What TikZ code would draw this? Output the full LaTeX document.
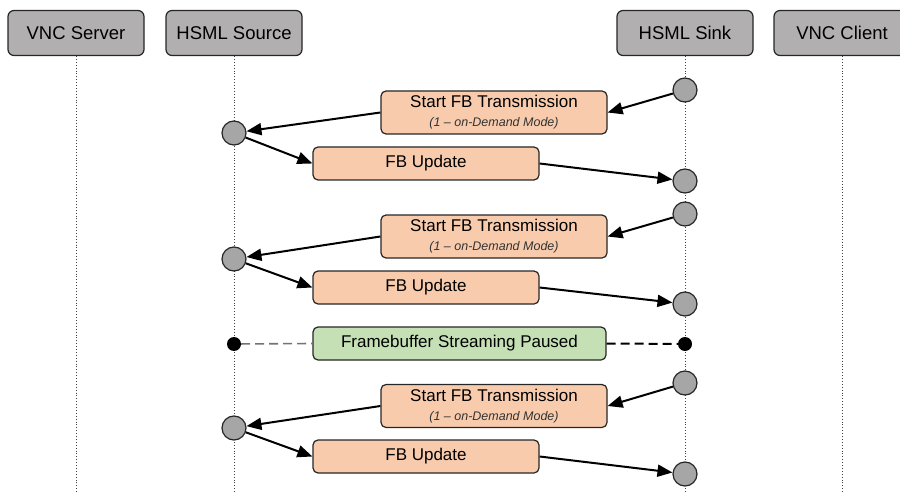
\documentclass[tikz,border=0pt]{standalone}
\usepackage{fontspec}
\setmainfont{Liberation Sans}
\usepackage{xcolor}
\usepackage{tikz}
\usetikzlibrary{arrows.meta, positioning}
\definecolor{hdrgray}{RGB}{178,175,176}
\definecolor{peach}{RGB}{248,203,173}
\definecolor{mint}{RGB}{197,224,180}
\definecolor{evgray}{RGB}{166,166,166}
\tikzset{
    actor/.style={rectangle, rounded corners=6pt, draw=black!85, line width=1.2pt, fill=hdrgray, minimum width=136pt, minimum height=45pt, font=\fontsize{18.5}{20}\selectfont},
    lifeline/.style={dotted, line width=0.9pt, black!75},
    event/.style={circle, draw=black!85, line width=1.2pt, fill=evgray, minimum size=24pt, inner sep=0pt},
    stopdot/.style={circle, fill=black, minimum size=14pt, inner sep=0pt},
    cmdbox/.style={rectangle, rounded corners=5pt, draw=black!85, line width=1.2pt, fill=peach, minimum width=226pt, minimum height=43pt, align=center, font=\fontsize{17}{19}\selectfont},
    databox/.style={rectangle, rounded corners=5pt, draw=black!85, line width=1.2pt, fill=peach, minimum width=226pt, minimum height=33pt, font=\fontsize{17}{19}\selectfont},
    pausebox/.style={rectangle, rounded corners=5pt, draw=black!85, line width=1.2pt, fill=mint, minimum width=293pt, minimum height=33pt, font=\fontsize{17}{19}\selectfont},
    msg/.style={-{Triangle[length=15pt, width=12pt]}, line width=2pt}
}
\newcommand{\startlabel}{Start FB Transmission\\[0pt]{\fontsize{12.5}{14}\selectfont\itshape\color{black!80}(1 -- on-Demand Mode)}}

\begin{document}
\begin{tikzpicture}[x=1pt, y=-1pt]
    \useasboundingbox (0,0) rectangle (900,492);

    % Participants
    \node[actor] (vncS) at (76,33) {VNC Server};
    \node[actor] (src) at (234,33) {HSML Source};
    \node[actor] (sink) at (685,33) {HSML Sink};
    \node[actor] (vncC) at (842,33) {VNC Client};

    % Lifelines
    \coordinate (vncSend) at (76,492);
    \coordinate (srcEnd) at (234,492);
    \coordinate (sinkEnd) at (685,492);
    \coordinate (vncCend) at (842,492);
    \draw[lifeline] (vncS) -- (vncSend);
    \draw[lifeline] (src) -- (srcEnd);
    \draw[lifeline] (sink) -- (sinkEnd);
    \draw[lifeline] (vncC) -- (vncCend);

    % Round 1
    \node[event] (K1) at (685,90) {};
    \node[cmdbox] (C1) at (494,112.5) {\startlabel};
    \node[event] (S1) at (234,133) {};
    \node[databox] (U1) at (426,163.5) {FB Update};
    \node[event] (R1) at (685,181) {};
    \draw[msg] (K1) -- (C1.east);
    \draw[msg] (C1.west) -- (S1);
    \draw[msg] (S1) -- (U1.west);
    \draw[msg] (U1.east) -- (R1);

    % Round 2
    \node[event] (K2) at (685,214) {};
    \node[cmdbox] (C2) at (494,236.5) {\startlabel};
    \node[event] (S2) at (234,259) {};
    \node[databox] (U2) at (426,287.5) {FB Update};
    \node[event] (R2) at (685,304) {};
    \draw[msg] (K2) -- (C2.east);
    \draw[msg] (C2.west) -- (S2);
    \draw[msg] (S2) -- (U2.west);
    \draw[msg] (U2.east) -- (R2);

    % Paused
    \node[stopdot] (PL) at (234,344) {};
    \node[pausebox] (P) at (459.5,343.5) {Framebuffer Streaming Paused};
    \node[stopdot] (PR) at (685,344) {};
    \draw[dash pattern=on 9pt off 5pt, line width=1.6pt, black!55] (PL) -- (P.west);
    \draw[dash pattern=on 9pt off 5pt, line width=2pt] (P.east) -- (PR);

    % Round 3
    \node[event] (K3) at (685,383) {};
    \node[cmdbox] (C3) at (494,406) {\startlabel};
    \node[event] (S3) at (234,428) {};
    \node[databox] (U3) at (426,456.5) {FB Update};
    \node[event] (R3) at (685,474) {};
    \draw[msg] (K3) -- (C3.east);
    \draw[msg] (C3.west) -- (S3);
    \draw[msg] (S3) -- (U3.west);
    \draw[msg] (U3.east) -- (R3);

\end{tikzpicture}
\end{document}
